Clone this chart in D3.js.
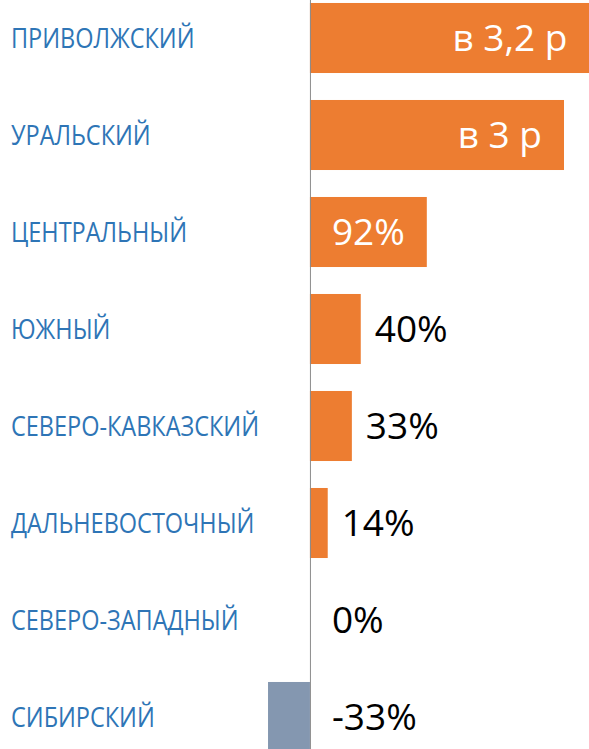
<!DOCTYPE html>
<html>
<head>
<meta charset="utf-8">
<script src="https://cdn.jsdelivr.net/npm/d3@7"></script>
<style>
  html, body { margin: 0; padding: 0; background: #fff; overflow: hidden; }
  svg { display: block; }
  .cat { fill: #2e75b6; font-family: "Open Sans", sans-serif; }
  .val { font-family: "Open Sans", sans-serif; }
</style>
</head>
<body>
<svg id="chart" width="589" height="749"></svg>
<script>
// regions, growth in %, and the labels shown on the bars
var regions = ["ПРИВОЛЖСКИЙ", "УРАЛЬСКИЙ", "ЦЕНТРАЛЬНЫЙ", "ЮЖНЫЙ",
               "СЕВЕРО-КАВКАЗСКИЙ", "ДАЛЬНЕВОСТОЧНЫЙ", "СЕВЕРО-ЗАПАДНЫЙ", "СИБИРСКИЙ"];
var growth = [220, 200, 92, 40, 33, 14, 0, -33];
var valueLabels = ["в 3,2 р", "в 3 р", "92%", "40%", "33%", "14%", "0%", "-33%"];

var svg = d3.select("#chart"),
    width = +svg.attr("width"),
    height = +svg.attr("height");

var data = regions.map(function (r, i) {
    return { region: r, value: growth[i], label: valueLabels[i] };
});

// zero line sits at x = 310, bars run to the right edge
var x = d3.scaleLinear().domain([-244, 220]).range([0, 589.4]);
var y = d3.scaleBand()
    .domain(regions)
    .range([-10.5, 765.5])
    .paddingInner(0.278)
    .paddingOuter(0.139);

var g = svg.append("g");

g.selectAll(".bar")
    .data(data)
    .enter()
    .append("rect")
    .attr("class", "bar")
    .attr("x", function (d) { return x(Math.min(0, d.value)); })
    .attr("y", function (d) { return y(d.region); })
    .attr("width", function (d) { return Math.abs(x(d.value) - x(0)); })
    .attr("height", y.bandwidth())
    .attr("fill", function (d) { return d.value < 0 ? "#8497b0" : "#ed7d31"; });

// axis line
svg.append("line")
    .attr("x1", x(0) + 0.5).attr("x2", x(0) + 0.5)
    .attr("y1", 0).attr("y2", height)
    .attr("stroke", "#8c8c8c")
    .attr("stroke-width", 1);

// category labels on the left (squeezed a bit to look like the narrow original font)
svg.selectAll(".cat")
    .data(data)
    .enter()
    .append("text")
    .attr("class", "cat")
    .attr("transform", function (d) {
        return "translate(11," + (y(d.region) + y.bandwidth() / 2) + ") scale(0.87,1)";
    })
    .attr("dy", "0.36em")
    .attr("font-size", 27)
    .text(function (d) { return d.region; });

// value labels: big bars get them inside, the rest outside
svg.selectAll(".val")
    .data(data)
    .enter()
    .append("text")
    .attr("class", "val")
    .attr("font-size", 37)
    .attr("y", function (d) { return y(d.region) + y.bandwidth() / 2; })
    .attr("dy", "0.36em")
    .attr("text-anchor", function (d) { return d.value > 60 ? "end" : "start"; })
    .attr("x", function (d) {
        if (d.value > 60) return x(d.value) - 22;
        if (d.value > 0) return x(d.value) + 14;
        return x(0) + 22;
    })
    .attr("fill", function (d) { return d.value > 60 ? "#fff" : "#000"; })
    .text(function (d) { return d.label; });
</script>
</body>
</html>
